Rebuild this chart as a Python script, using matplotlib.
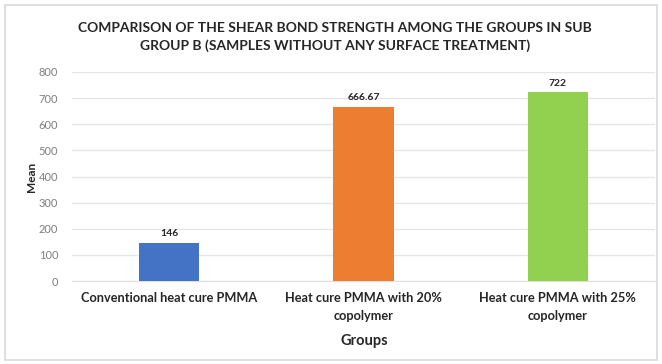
import matplotlib
matplotlib.use("Agg")
import matplotlib.pyplot as plt
from matplotlib.patches import Rectangle

plt.rcParams['font.family'] = ['Lato', 'DejaVu Sans']

groups = ["Conventional heat cure PMMA",
          "Heat cure PMMA with 20%\ncopolymer",
          "Heat cure PMMA with 25%\ncopolymer"]
means = [146, 666.67, 722]
value_labels = ["146", "666.67", "722"]
bar_colors = ["#4472C4", "#ED7D31", "#92D050"]
yticks = [0, 100, 200, 300, 400, 500, 600, 700, 800]

fig = plt.figure(figsize=(6.62, 3.64), dpi=100)
fig.patch.set_facecolor("white")
fig.add_artist(Rectangle((5 / 662, 4 / 364), 652 / 662, 355 / 364,
                         transform=fig.transFigure, fill=False,
                         edgecolor="#d9d9d9", linewidth=1.2))

ax = fig.add_axes([72 / 662, 83 / 364, 583 / 662, 209 / 364])
x = list(range(len(groups)))
ax.bar(x, means, width=0.31, color=bar_colors, zorder=3)
for xi, v, lab in zip(x, means, value_labels):
    ax.text(xi, v + 18, lab, ha="center", va="bottom", fontsize=7.5,
            fontweight="bold", color="#262626")

ax.set_xlim(-0.5, 2.5)
ax.set_ylim(0, 800)
ax.set_yticks(yticks)
ax.yaxis.grid(True, color="#e6e6e6", linewidth=1, zorder=0)
ax.tick_params(axis="y", length=0, labelsize=8, labelcolor="#7f7f7f", pad=10)
ax.tick_params(axis="x", length=0, pad=8)
ax.set_xticks(x)
ax.set_xticklabels(groups, fontsize=9.2, fontweight="bold", color="#262626",
                   linespacing=1.55, va="top")
for s in ["top", "right", "left"]:
    ax.spines[s].set_visible(False)
ax.spines["bottom"].set_color("#e0e0e0")

ax.set_ylabel("Mean", fontsize=8.5, fontweight="bold", color="#262626", labelpad=1)
fig.text(364 / 662, 23 / 364, "Groups", ha="center", va="center",
         fontsize=10.5, fontweight="bold", color="#262626")

fig.text(335 / 662, 1 - 37 / 364,
         "COMPARISON OF THE SHEAR BOND STRENGTH AMONG THE GROUPS IN SUB\nGROUP B (SAMPLES WITHOUT ANY SURFACE TREATMENT)",
         ha="center", va="center", fontsize=10, fontweight="bold",
         color="#262626", linespacing=1.45)

fig.savefig("out.png", dpi=100)
